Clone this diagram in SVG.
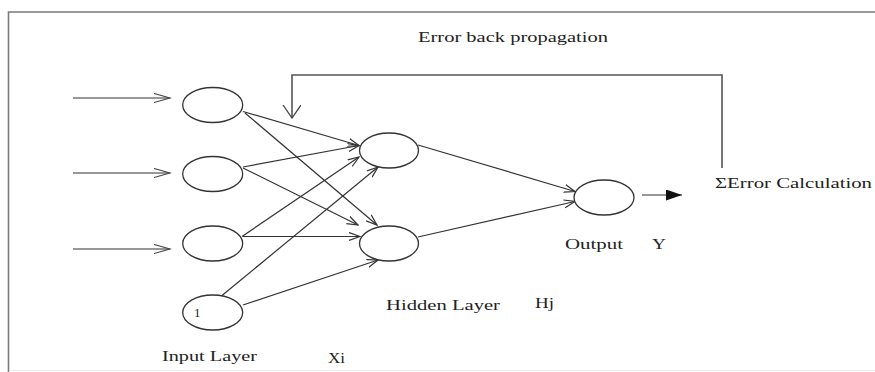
<svg xmlns="http://www.w3.org/2000/svg" width="875" height="372" viewBox="0 0 875 372">
<defs>
<style>
.node{fill:#fff;stroke:#333;stroke-width:1.3}
.edge{fill:none;stroke:#333;stroke-width:1.2}
.lbl{font-family:"Liberation Serif","Times New Roman",serif;font-size:14px;fill:#222}
.frame{fill:none;stroke:#7a7a7a;stroke-width:1.6}
</style>
<marker id="inArrow" markerUnits="userSpaceOnUse" markerWidth="18" markerHeight="12" refX="16" refY="5" orient="auto">
<path d="M0,0.5 L16,5 L0,9.5" fill="none" stroke="#444" stroke-width="1.2"/>
</marker>
<marker id="small" markerUnits="userSpaceOnUse" markerWidth="12" markerHeight="10" refX="11" refY="4.5" orient="auto">
<path d="M0,0.5 L11,4.5 L0,8.5" fill="none" stroke="#333" stroke-width="1.2"/>
</marker>
<marker id="fb" markerUnits="userSpaceOnUse" markerWidth="14" markerHeight="20" refX="13" refY="9" orient="auto">
<path d="M0,0 L13,9 L0,18" fill="none" stroke="#444" stroke-width="1.3"/>
</marker>
<marker id="solid" markerUnits="userSpaceOnUse" markerWidth="18" markerHeight="12" refX="16" refY="5.5" orient="auto">
<path d="M0,0 L16,5.5 L0,11 Z" fill="#111"/>
</marker>
</defs>
<rect width="875" height="372" fill="#fff"/>
<g id="frame">
<path class="frame" d="M8.5,372 V12 H875"/>
<path d="M9,370.5 H875" stroke="#ececec" stroke-width="1" fill="none"/>
</g>
<g id="connectors">
<line class="edge" x1="73" y1="98" x2="170" y2="98" marker-end="url(#inArrow)"/>
<line class="edge" x1="73" y1="173" x2="170" y2="173" marker-end="url(#inArrow)"/>
<line class="edge" x1="73" y1="249" x2="170" y2="249" marker-end="url(#inArrow)"/>
<line class="edge" x1="243" y1="111.5" x2="359" y2="145.5" marker-end="url(#small)"/>
<line class="edge" x1="245" y1="113" x2="377" y2="225" marker-end="url(#small)"/>
<line class="edge" x1="243" y1="167" x2="359" y2="145.5" marker-end="url(#small)"/>
<line class="edge" x1="243" y1="168" x2="358" y2="225" marker-end="url(#small)"/>
<line class="edge" x1="242" y1="236.5" x2="359" y2="157" marker-end="url(#small)"/>
<line class="edge" x1="243" y1="236.5" x2="360" y2="236.5" marker-end="url(#small)"/>
<line class="edge" x1="222" y1="295.5" x2="378" y2="167" marker-end="url(#small)"/>
<line class="edge" x1="243" y1="305" x2="378" y2="260" marker-end="url(#small)"/>
<line class="edge" x1="418" y1="145" x2="575" y2="191.5" marker-end="url(#small)"/>
<line class="edge" x1="418" y1="237" x2="575" y2="201.5" marker-end="url(#small)"/>
<line class="edge" x1="642" y1="195" x2="682" y2="195" marker-end="url(#solid)"/>
<path d="M722,168 V75 H292 V118" fill="none" stroke="#555" stroke-width="1.6" marker-end="url(#fb)"/>
</g>
<g id="input1"><ellipse class="node" cx="212.7" cy="105" rx="30" ry="17.5"/></g>
<g id="input2"><ellipse class="node" cx="212.7" cy="174" rx="30" ry="17.5"/></g>
<g id="input3"><ellipse class="node" cx="212.7" cy="243.5" rx="30" ry="17.5"/></g>
<g id="input4"><ellipse class="node" cx="212.7" cy="312.5" rx="30" ry="17.5"/><text class="lbl" x="194" y="317" style="font-size:13px">1</text></g>
<g id="hidden1"><ellipse class="node" cx="389" cy="150.5" rx="29.5" ry="17.5"/></g>
<g id="hidden2"><ellipse class="node" cx="389" cy="243.5" rx="29.5" ry="17.5"/></g>
<g id="output"><ellipse class="node" cx="604" cy="197.5" rx="30" ry="17.5"/></g>
<g id="labels">
<text class="lbl" x="418" y="42" textLength="190" lengthAdjust="spacingAndGlyphs">Error back propagation</text>
<text class="lbl" x="715" y="188" textLength="157" lengthAdjust="spacingAndGlyphs">ΣError Calculation</text>
<text class="lbl" x="565" y="249" textLength="58" lengthAdjust="spacingAndGlyphs">Output</text>
<text class="lbl" x="652" y="249" textLength="14" lengthAdjust="spacingAndGlyphs">Y</text>
<text class="lbl" x="386" y="310" textLength="114" lengthAdjust="spacingAndGlyphs">Hidden Layer</text>
<text class="lbl" x="535" y="308" textLength="19" lengthAdjust="spacingAndGlyphs">Hj</text>
<text class="lbl" x="162" y="361" textLength="95" lengthAdjust="spacingAndGlyphs">Input Layer</text>
<text class="lbl" x="328" y="363" textLength="17" lengthAdjust="spacingAndGlyphs">Xi</text>
</g>
</svg>
